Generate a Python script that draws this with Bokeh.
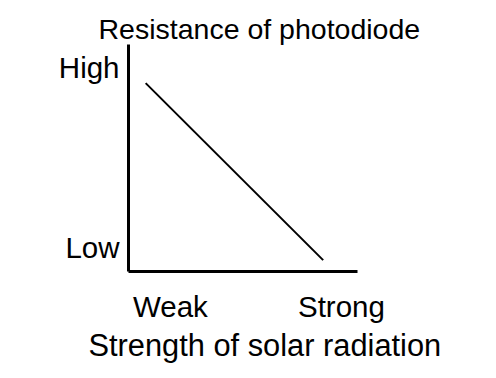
from bokeh.plotting import figure
from bokeh.models import Range1d, FixedTicker, Title
from bokeh.embed import file_html
from bokeh.resources import INLINE

# Data (arbitrary conceptual units)
strength = [0.75, 8.5]
resistance = [8.3, 0.5]
x_ticks = [1.83, 9.3]
x_tick_labels = ["Weak", "Strong"]
y_ticks = [1.06, 8.99]
y_tick_labels = ["Low", "High"]
title_text = "Resistance of photodiode"
xlabel_text = "Strength of solar radiation"

FONT = "Liberation Sans"
FS = "29.5px"

p = figure(width=488, height=370, output_backend="svg", toolbar_location=None,
           x_range=Range1d(0, 10), y_range=Range1d(0, 10),
           min_border_left=128, min_border_right=131, min_border_top=44, min_border_bottom=99)
p.background_fill_color = "white"
p.border_fill_color = "white"
p.outline_line_color = None
p.grid.visible = False

p.line(strength, resistance, line_color="black", line_width=2)

for ax in (p.xaxis[0], p.yaxis[0]):
    ax.axis_line_color = "black"
    ax.axis_line_width = 3
    ax.major_tick_line_color = None
    ax.minor_tick_line_color = None
    ax.major_tick_out = 0
    ax.major_tick_in = 0
    ax.major_label_text_font = FONT
    ax.major_label_text_font_size = FS
    ax.major_label_text_color = "black"

p.xaxis.ticker = FixedTicker(ticks=x_ticks)
p.xaxis.major_label_overrides = {t: l for t, l in zip(x_ticks, x_tick_labels)}
p.xaxis.major_label_standoff = 18
p.yaxis.ticker = FixedTicker(ticks=y_ticks)
p.yaxis.major_label_overrides = {t: l for t, l in zip(y_ticks, y_tick_labels)}
p.yaxis.major_label_standoff = 9

p.title = Title(text=title_text, align="left", offset=-30, standoff=0,
                text_font=FONT, text_font_size="28.5px", text_font_style="normal",
                text_color="black")
p.add_layout(Title(text=xlabel_text, align="left", offset=-40, standoff=0,
                   text_font=FONT, text_font_size="30.8px", text_font_style="normal",
                   text_color="black"), "below")

open("out.html", "w").write(file_html(p, INLINE))
